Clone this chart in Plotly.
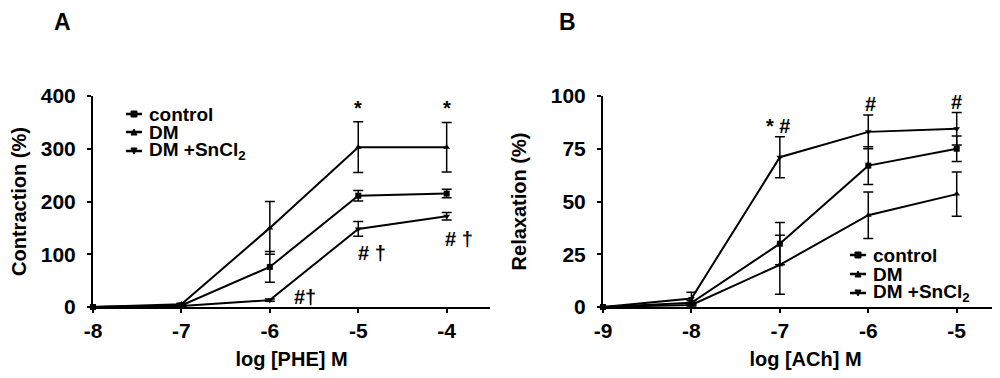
import plotly.graph_objects as go

# ---------- data: panel A (PHE contraction) ----------
x_phe = [-8, -7, -6, -5, -4]
phe_control = [0, 3, 76, 211, 215]
phe_control_err = [0, 2, 29, 10, 8]
phe_dm = [0, 5, 150, 303, 303]
phe_dm_err = [0, 2, 50, 48, 47]
phe_sn = [0, 2, 13, 148, 172]
phe_sn_err = [0, 1, 2, 14, 7]

# ---------- data: panel B (ACh relaxation) ----------
x_ach = [-9, -8, -7, -6, -5]
ach_control = [0, 2, 30, 67, 75]
ach_control_err = [0, 1, 10, 9, 6]
ach_dm = [0, 1, 20, 43.5, 53.5]
ach_dm_err = [0, 1, 14, 11, 10.5]
ach_sn = [0, 4, 71, 83, 84.5]
ach_sn_err = [0, 3, 9.7, 8, 7.7]

series_names = ["control", "DM", "DM +SnCl<sub>2</sub>"]
symbols = ["square", "triangle-up", "triangle-down"]

xticks_a = [-8, -7, -6, -5, -4]
yticks_a = [0, 100, 200, 300, 400]
xticks_b = [-9, -8, -7, -6, -5]
yticks_b = [0, 25, 50, 75, 100]

FONT = "Liberation Sans, Arial, sans-serif"
W, H = 1000, 378
OFF = 8  # page body margin offset of the figure in the browser


def px(x):
    return (x - OFF) / W


def py(y):
    return 1 - (y - OFF) / H


fig = go.Figure()


def add_series(x, ys, errs, xa, ya):
    for name, y, e, sym in zip(series_names, ys, errs, symbols):
        fig.add_trace(go.Scatter(
            x=x, y=y, name=name, mode="lines+markers", showlegend=False,
            line=dict(color="black", width=2),
            marker=dict(symbol=sym, size=6, color="black"),
            error_y=dict(type="data", array=e, visible=True, color="black",
                         thickness=1.5, width=5),
            xaxis=xa, yaxis=ya, cliponaxis=False,
        ))


add_series(x_phe, [phe_control, phe_dm, phe_sn],
           [phe_control_err, phe_dm_err, phe_sn_err], "x", "y")
add_series(x_ach, [ach_control, ach_dm, ach_sn],
           [ach_control_err, ach_dm_err, ach_sn_err], "x2", "y2")

ax_common = dict(showline=True, linecolor="black", linewidth=2, showgrid=False,
                 zeroline=False, ticks="outside", ticklen=4, tickwidth=2,
                 tickcolor="black", automargin=False,
                 tickfont=dict(family=FONT, size=21, color="black", weight="bold"))
title_font = dict(family=FONT, size=20, color="black", weight="bold")

fig.update_layout(
    width=W, height=H,
    margin=dict(l=0, r=0, t=0, b=0),
    paper_bgcolor="white", plot_bgcolor="white",
    font=dict(family=FONT, color="black"),
    xaxis=dict(domain=[px(93), px(490)], range=[-8, -3.51], tickvals=xticks_a,
               ticktext=[str(v) for v in xticks_a], anchor="y",
               title=dict(text="log [PHE] M", standoff=11, font=title_font),
               **ax_common),
    yaxis=dict(domain=[py(307), py(96)], range=[0, 400], tickvals=yticks_a,
               anchor="x", ticklabelstandoff=7,
               title=dict(text="Contraction (%)", standoff=19, font=title_font),
               **ax_common),
    xaxis2=dict(domain=[px(603), 1.0], range=[-9, -4.42], tickvals=xticks_b,
                ticktext=[str(v) for v in xticks_b], anchor="y2",
                title=dict(text="log [ACh] M", standoff=11, font=title_font),
                **ax_common),
    yaxis2=dict(domain=[py(307), py(96)], range=[0, 100], tickvals=yticks_b,
                anchor="x2", ticklabelstandoff=7,
                title=dict(text="Relaxation (%)", standoff=19, font=title_font),
                **ax_common),
)

# significance marks
marks = [
    ("x", "y", -5, 377, "*"),
    ("x", "y", -4, 377, "*"),
    ("x", "y", -4.85, 102, "# †"),
    ("x", "y", -3.86, 129, "# †"),
    ("x", "y", -5.6, 19, "#†"),
    ("x2", "y2", -7.02, 86, "* #"),
    ("x2", "y2", -5.98, 96, "#"),
    ("x2", "y2", -5.0, 97, "#"),
]
for xr, yr, xv, yv, t in marks:
    fig.add_annotation(x=xv, y=yv, xref=xr, yref=yr, text=t, showarrow=False,
                       xanchor="center", yanchor="middle",
                       font=dict(family=FONT, size=20, color="black", weight="bold"))


def marker_path(sym, cx, cy, s=3):
    if sym == "square":
        return f"M{px(cx-s)},{py(cy-s)} L{px(cx+s)},{py(cy-s)} L{px(cx+s)},{py(cy+s)} L{px(cx-s)},{py(cy+s)} Z"
    if sym == "triangle-up":
        return f"M{px(cx-s)},{py(cy+s)} L{px(cx+s)},{py(cy+s)} L{px(cx)},{py(cy-s)} Z"
    return f"M{px(cx-s)},{py(cy-s)} L{px(cx+s)},{py(cy-s)} L{px(cx)},{py(cy+s)} Z"


def draw_legend(x0, ys):
    for name, sym, yc in zip(series_names, symbols, ys):
        fig.add_shape(type="line", xref="paper", yref="paper",
                      x0=px(x0), x1=px(x0 + 16), y0=py(yc), y1=py(yc),
                      line=dict(color="black", width=2.5))
        fig.add_shape(type="path", xref="paper", yref="paper",
                      path=marker_path(sym, x0 + 8, yc), fillcolor="black",
                      line=dict(color="black", width=1))
        fig.add_annotation(x=px(x0 + 21), y=py(yc), xref="paper", yref="paper",
                           xanchor="left", yanchor="middle", text=name,
                           showarrow=False,
                           font=dict(family=FONT, size=19, color="black", weight="bold"))


draw_legend(126, [114, 132, 151])
draw_legend(850, [255, 274, 293])

# panel labels
for lbl, xc in (("A", 62), ("B", 567)):
    fig.add_annotation(x=px(xc), y=py(22), xref="paper", yref="paper", text=lbl,
                       xanchor="center", yanchor="middle", showarrow=False,
                       font=dict(family=FONT, size=23, color="black", weight="bold"))

fig.write_html("out.html")
